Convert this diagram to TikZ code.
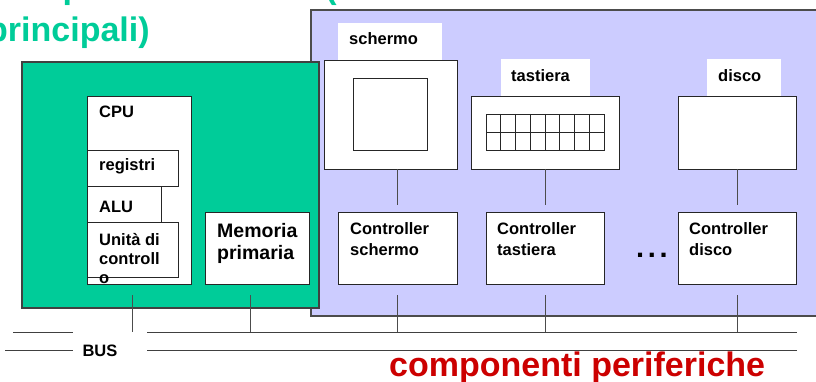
\documentclass[tikz,border=0pt]{standalone}
\usepackage{fontspec}
\setmainfont{Liberation Sans}
\usetikzlibrary{calc}
\definecolor{cgreen}{HTML}{00CC99}
\definecolor{cblue}{HTML}{CCCCFF}
\definecolor{cred}{HTML}{CC0000}
\newcommand{\sz}[1]{\fontsize{#1}{#1}\selectfont}
\begin{document}
\begin{tikzpicture}[x=1pt,y=-1pt,
  box/.style={draw=black!85, line width=0.9pt, fill=white, anchor=north west, inner sep=0pt, outer sep=0pt},
  tag/.style={fill=white, anchor=north west, inner sep=0pt, outer sep=0pt},
  lbl/.style={anchor=base west, inner sep=0pt, font=\bfseries\sz{16.5}, align=left},
  wire/.style={draw=black!70, line width=0.9pt},
  busline/.style={draw=black!75, line width=0.9pt}]
\useasboundingbox (0,0) rectangle (816,382);
\clip (0,0) rectangle (816,382);

% title
\node[anchor=base west, inner sep=0pt, text=cgreen, font=\bfseries\sz{34}] (t1) at (-13,-1) {Componenti centrali (o};
\node[anchor=base west, inner sep=0pt, text=cgreen, font=\bfseries\sz{34}] (t2) at (-13,42) {principali)};

% peripheral area and central unit
\node[box, fill=cblue, draw=black!70, line width=1.2pt, minimum width=520, minimum height=306] (periph) at (311,10) {};
\node[box, fill=cgreen, draw=black!75, line width=1.4pt, minimum width=297, minimum height=246] (central) at (22,62) {};

% CPU and its parts
\node[box, minimum width=104, minimum height=188] (cpu) at (87,96) {};
\node[box, minimum width=91, minimum height=36] (reg) at (87,150) {};
\node[box, minimum width=74, minimum height=36] (alu) at (87,186) {};
\node[box, minimum width=91, minimum height=55] (cu) at (87,222) {};
\node[box, minimum width=104, minimum height=72] (mem) at (205,212) {};

\node[lbl] (cpuT) at (99,118) {CPU};
\node[lbl] (regT) at (99,171) {registri};
\node[lbl] (aluT) at (99,212) {ALU};
\node[lbl] (cuT1) at (99,245) {Unità di};
\node[lbl] (cuT2) at (99,264) {controll};
\node[lbl] (cuT3) at (99,283) {o};
\node[lbl, font=\bfseries\sz{19.5}] (memT1) at (217,237) {Memoria};
\node[lbl, font=\bfseries\sz{19.5}] (memT2) at (217,259) {primaria};

% devices
\node[box, minimum width=133, minimum height=109] (scr) at (324,60) {};
\node[box, minimum width=74, minimum height=72] (scrIn) at (353,78) {};
\node[tag, minimum width=104, minimum height=37] (scrTag) at (338,23) {};
\node[lbl] (scrT) at (349,45) {schermo};

\node[box, minimum width=148, minimum height=73] (kbd) at (471,96) {};
\node[tag, minimum width=89, minimum height=37] (kbdTag) at (501,59) {};
\node[lbl] (kbdT) at (511,82) {tastiera};
\node[box, minimum width=118, minimum height=36] (keys) at (486,114) {};
\foreach \i in {1,...,7} \draw[black!85, line width=0.9pt] ($(keys.north west)+(\i*14.75,0)$) -- ($(keys.south west)+(\i*14.75,0)$);
\draw[black!85, line width=0.9pt] (keys.west) -- (keys.east);

\node[box, minimum width=118, minimum height=73] (dsk) at (678,96) {};
\node[tag, minimum width=74, minimum height=37] (dskTag) at (707,59) {};
\node[lbl] (dskT) at (718,82) {disco};

% controllers
\node[box, minimum width=119, minimum height=72] (cS) at (338,212) {};
\node[box, minimum width=118, minimum height=72] (cK) at (486,212) {};
\node[box, minimum width=118, minimum height=72] (cD) at (678,212) {};
\node[lbl] (cST1) at (350,234) {Controller};
\node[lbl] (cST2) at (350,255) {schermo};
\node[lbl] (cKT1) at (497,234) {Controller};
\node[lbl] (cKT2) at (497,255) {tastiera};
\node[lbl] (cDT1) at (689,234) {Controller};
\node[lbl] (cDT2) at (689,255) {disco};
\node[anchor=base west, inner sep=0pt, font=\bfseries\sz{29}] (dots) at (636,257) {.\kern3.6pt.\kern3.6pt.};

% bus
\coordinate (bA1) at (13,332);
\coordinate (bA2) at (73,332);
\coordinate (bB1) at (147,332);
\coordinate (bB2) at (797,332);
\coordinate (bC1) at (5,350);
\coordinate (bC2) at (73,350);
\coordinate (bD1) at (147,350);
\coordinate (bD2) at (797,350);
\draw[busline] (bA1) -- (bA2);
\draw[busline] (bB1) -- (bB2);
\draw[busline] (bC1) -- (bC2);
\draw[busline] (bD1) -- (bD2);
\node[anchor=base, inner sep=0pt, font=\bfseries\sz{16.5}] (busT) at (100,356) {BUS};

% taps onto the bus
\coordinate (cpuTap) at (132,295);
\coordinate (memTap) at (250,295);
\draw[wire] (cpuTap) -- (cpuTap |- bB1);
\draw[wire] (memTap) -- (memTap |- bB1);
\draw[wire] ($(cS.south)+(0,11)$) -- (cS.south |- bB1);
\draw[wire] ($(cK.south)+(0,11)$) -- (cK.south |- bB1);
\draw[wire] ($(cD.south)+(0,11)$) -- (cD.south |- bB1);

% device to controller links
\draw[wire] (scr.south -| cS.north) -- ($(cS.north)+(0,-7)$);
\draw[wire] (kbd.south -| cK.north) -- ($(cK.north)+(0,-7)$);
\draw[wire] (dsk.south -| cD.north) -- ($(cD.north)+(0,-7)$);

\node[anchor=base west, inner sep=0pt, text=cred, font=\bfseries\sz{34}] (perT) at (389,376) {componenti periferiche};
\end{tikzpicture}
\end{document}
